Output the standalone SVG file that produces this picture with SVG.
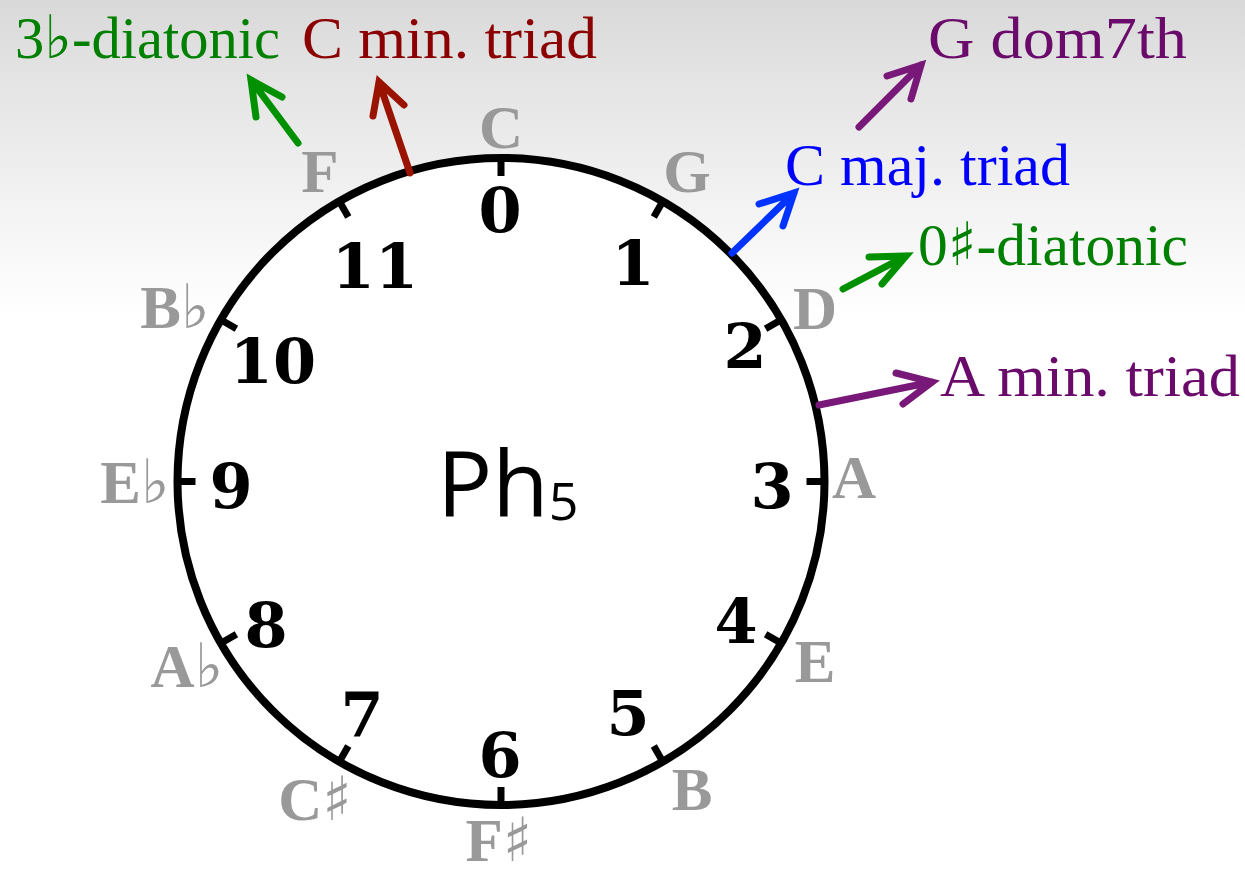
<svg xmlns="http://www.w3.org/2000/svg" width="1245" height="873" viewBox="0 0 1245 873">
<defs>
<linearGradient id="bg" x1="0" y1="0" x2="0" y2="1">
<stop offset="0" stop-color="#d9d9d9"/>
<stop offset="0.1" stop-color="#e5e5e5"/>
<stop offset="0.22" stop-color="#f1f1f1"/>
<stop offset="0.36" stop-color="#ffffff"/>
</linearGradient>
<style>
.num{font-family:"DejaVu Serif",serif;font-weight:bold;font-size:62px;fill:#000;text-anchor:middle}
.note{font-family:"Liberation Serif",serif;font-weight:bold;font-size:61px;fill:#999;text-anchor:middle}
.acc{font-family:"DejaVu Serif",serif;font-weight:normal}
.lab{font-family:"Liberation Serif","DejaVu Serif",serif;font-size:60px}
.arr{fill:none;stroke-width:7;stroke-linecap:round;stroke-linejoin:miter}
.tick{stroke:#000;stroke-width:7}
</style>
</defs>
<rect width="1245" height="873" fill="url(#bg)"/>
<g id="clock">
<circle cx="501" cy="481.5" r="323.5" fill="#fff" stroke="#000" stroke-width="8"/>
<g id="ticks">
<line class="tick" x1="501" y1="158" x2="501" y2="176"/>
<line class="tick" x1="662.8" y1="201.3" x2="653.8" y2="216.9"/>
<line class="tick" x1="781.2" y1="319.8" x2="765.6" y2="328.8"/>
<line class="tick" x1="824.5" y1="481.5" x2="806.5" y2="481.5"/>
<line class="tick" x1="781.2" y1="643.3" x2="765.6" y2="634.3"/>
<line class="tick" x1="662.8" y1="761.7" x2="653.8" y2="746.1"/>
<line class="tick" x1="501" y1="805" x2="501" y2="787"/>
<line class="tick" x1="339.3" y1="761.7" x2="348.3" y2="746.1"/>
<line class="tick" x1="220.8" y1="643.3" x2="236.4" y2="634.3"/>
<line class="tick" x1="177.5" y1="481.5" x2="195.5" y2="481.5"/>
<line class="tick" x1="220.8" y1="319.8" x2="236.4" y2="328.8"/>
<line class="tick" x1="339.3" y1="201.3" x2="348.3" y2="216.9"/>
</g>
<g id="numbers">
<text class="num" x="500" y="232">0</text>
<text class="num" x="633" y="285">1</text>
<text class="num" x="745" y="368">2</text>
<text class="num" x="772" y="508">3</text>
<text class="num" x="736" y="643">4</text>
<text class="num" x="628" y="735">5</text>
<text class="num" x="500" y="777">6</text>
<text class="num" x="362" y="737">7</text>
<text class="num" x="266" y="647">8</text>
<text class="num" x="231" y="508">9</text>
<text class="num" x="273" y="383">10</text>
<text class="num" x="375" y="288">11</text>
</g>
<g id="notes">
<text class="note" x="501" y="148">C</text>
<text class="note" x="687" y="192">G</text>
<text class="note" x="815" y="329">D</text>
<text class="note" x="854" y="498">A</text>
<text class="note" x="815" y="682">E</text>
<text class="note" x="692" y="810">B</text>
<text class="note" x="499" y="861">F<tspan class="acc">♯</tspan></text>
<text class="note" x="315" y="820">C<tspan class="acc">♯</tspan></text>
<text class="note" x="187" y="687">A<tspan class="acc">♭</tspan></text>
<text class="note" x="135" y="503">E<tspan class="acc">♭</tspan></text>
<text class="note" x="175" y="328">B<tspan class="acc">♭</tspan></text>
<text class="note" x="320" y="192">F</text>
</g>
<g id="title">
<text x="437" y="517" font-family="'Open Sans','Noto Sans',sans-serif" font-size="92" fill="#000">Ph<tspan font-size="52" dy="3">5</tspan></text>
</g>
</g>
<g id="connectors">
<path class="arr" stroke="#009000" d="M298 143 L251 80 M256 117 L251 80 L282 97"/>
<path class="arr" stroke="#9a1200" d="M410 173 L379 82 M373 116 L379 82 L404 105"/>
<path class="arr" stroke="#781878" d="M859 127 L921 65 M887 76 L921 65 L911 99"/>
<path class="arr" stroke="#0033ff" d="M732 253 L794 193 M759 204 L794 193 L783 226"/>
<path class="arr" stroke="#009000" d="M843 289 L906 256 M869 257 L906 256 L882 284"/>
<path class="arr" stroke="#781878" d="M819 405 L932 382 M896 373 L932 382 L903 404"/>
</g>
<g id="labels">
<text id="l-3flat" class="lab" x="15" y="58" fill="#008000" textLength="265" lengthAdjust="spacingAndGlyphs">3<tspan class="acc">♭</tspan>-diatonic</text>
<text id="l-cmin" class="lab" x="302" y="58" fill="#8b0000" textLength="295" lengthAdjust="spacingAndGlyphs">C min. triad</text>
<text id="l-gdom" class="lab" x="928" y="58" fill="#6a0a6a" textLength="259" lengthAdjust="spacingAndGlyphs">G dom7th</text>
<text id="l-cmaj" class="lab" x="785" y="185" fill="#0000ff" textLength="285" lengthAdjust="spacingAndGlyphs">C maj. triad</text>
<text id="l-0sharp" class="lab" x="918" y="265" fill="#008000" textLength="270" lengthAdjust="spacingAndGlyphs">0<tspan class="acc">♯</tspan>-diatonic</text>
<text id="l-amin" class="lab" x="940" y="396" fill="#6a0a6a" textLength="300" lengthAdjust="spacingAndGlyphs">A min. triad</text>
</g>
</svg>
